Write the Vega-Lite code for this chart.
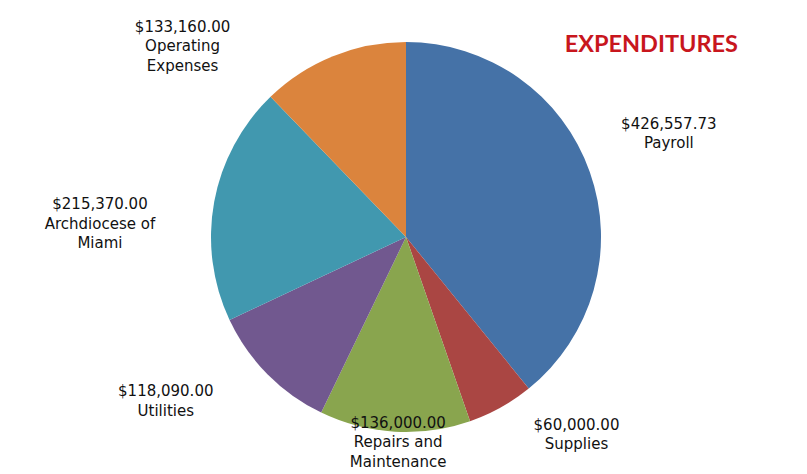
{
  "$schema": "https://vega.github.io/schema/vega-lite/v6.json",
  "autosize": {"type": "none"},
  "width": 792,
  "height": 464,
  "padding": {"left": 10, "top": 5, "right": 5, "bottom": 5},
  "background": "white",
  "config": {"view": {"stroke": null}, "text": {"font": "DejaVu Sans", "fontSize": 15, "fill": "#111111", "lineHeight": 19.5, "lineBreak": "\n", "align": "center", "baseline": "middle"}},
  "title": {"text": "EXPENDITURES", "anchor": "end", "frame": "group", "orient": "top", "dx": -64, "offset": -70, "baseline": "alphabetic", "font": "Lato", "fontSize": 23.5, "fontWeight": "bold", "color": "#C8161D"},
  "data": {"values": [
    {"category": "Payroll", "caption": "Payroll", "amount": 426557.73},
    {"category": "Supplies", "caption": "Supplies", "amount": 60000.00},
    {"category": "Repairs and Maintenance", "caption": "Repairs and\nMaintenance", "amount": 136000.00},
    {"category": "Utilities", "caption": "Utilities", "amount": 118090.00},
    {"category": "Archdiocese of Miami", "caption": "Archdiocese of\nMiami", "amount": 215370.00},
    {"category": "Operating Expenses", "caption": "Operating\nExpenses", "amount": 133160.00}
  ]},
  "transform": [
    {"joinaggregate": [{"op": "sum", "field": "amount", "as": "total"}]},
    {"window": [{"op": "sum", "field": "amount", "as": "cumsum"}], "frame": [null, 0]},
    {"calculate": "datum.cumsum / datum.total", "as": "end"},
    {"calculate": "(datum.cumsum - datum.amount) / datum.total", "as": "start"},
    {"calculate": "(datum.cumsum - datum.amount / 2) / datum.total", "as": "mid"},
    {"calculate": "format(datum.amount, '$,.2f') + '\\n' + datum.caption", "as": "label"}
  ],
  "layer": [
    {
      "mark": {"type": "arc", "radius": 195, "stroke": null},
      "encoding": {
        "theta": {"field": "start", "type": "quantitative", "scale": {"domain": [0, 1], "nice": false, "zero": true}},
        "theta2": {"field": "end"},
        "color": {"field": "category", "type": "nominal", "legend": null,
          "scale": {"domain": ["Payroll", "Supplies", "Repairs and Maintenance", "Utilities", "Archdiocese of Miami", "Operating Expenses"],
                    "range": ["#4572A7", "#AA4643", "#89A54E", "#71588F", "#4198AF", "#DB843D"]}}
      }
    },
    {
      "transform": [{"filter": "datum.category == 'Payroll'"}],
      "mark": {"type": "text", "radius": 282, "dx": -3, "dy": -19},
      "encoding": {"theta": {"field": "mid", "type": "quantitative", "scale": {"domain": [0, 1], "nice": false, "zero": true}}, "text": {"field": "label"}}
    },
    {
      "transform": [{"filter": "datum.category == 'Supplies'"}],
      "mark": {"type": "text", "radius": 256, "dx": 46, "dy": -36},
      "encoding": {"theta": {"field": "mid", "type": "quantitative", "scale": {"domain": [0, 1], "nice": false, "zero": true}}, "text": {"field": "label"}}
    },
    {
      "transform": [{"filter": "datum.category == 'Repairs and Maintenance'"}],
      "mark": {"type": "text", "radius": 206, "dx": 4, "dy": -20},
      "encoding": {"theta": {"field": "mid", "type": "quantitative", "scale": {"domain": [0, 1], "nice": false, "zero": true}}, "text": {"field": "label"}}
    },
    {
      "transform": [{"filter": "datum.category == 'Utilities'"}],
      "mark": {"type": "text", "radius": 286, "dx": -37, "dy": -47},
      "encoding": {"theta": {"field": "mid", "type": "quantitative", "scale": {"domain": [0, 1], "nice": false, "zero": true}}, "text": {"field": "label"}}
    },
    {
      "transform": [{"filter": "datum.category == 'Archdiocese of Miami'"}],
      "mark": {"type": "text", "radius": 303, "dx": -8, "dy": 22},
      "encoding": {"theta": {"field": "mid", "type": "quantitative", "scale": {"domain": [0, 1], "nice": false, "zero": true}}, "text": {"field": "label"}}
    },
    {
      "transform": [{"filter": "datum.category == 'Operating Expenses'"}],
      "mark": {"type": "text", "radius": 260, "dx": -126, "dy": 31},
      "encoding": {"theta": {"field": "mid", "type": "quantitative", "scale": {"domain": [0, 1], "nice": false, "zero": true}}, "text": {"field": "label"}}
    }
  ]
}
